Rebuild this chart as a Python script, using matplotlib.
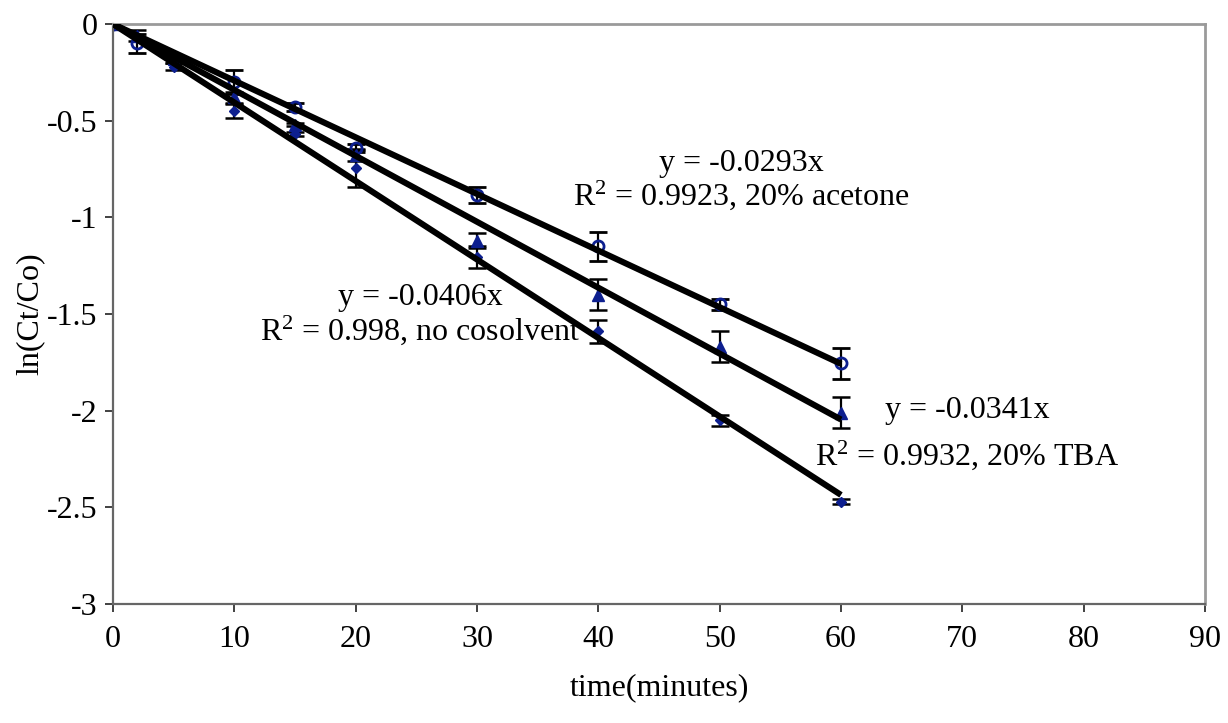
import numpy as np
import matplotlib.pyplot as plt

plt.rcParams['font.family'] = ['Liberation Serif', 'DejaVu Serif']
plt.rcParams['mathtext.fontset'] = 'custom'
plt.rcParams['mathtext.rm'] = 'Liberation Serif'
plt.rcParams['mathtext.it'] = 'Liberation Serif'

# 数据：三种体系 ln(Ct/Co) 随时间变化
time_ac = [0, 2, 10, 15, 20, 30, 40, 50, 60]
ln_ac = [0, -0.10, -0.30, -0.43, -0.64, -0.885, -1.15, -1.45, -1.755]
err_ac = [0, 0.05, 0.06, 0.02, 0.02, 0.04, 0.075, 0.03, 0.08]

time_tba = [0, 2, 5, 10, 15, 20, 30, 40, 50, 60]
ln_tba = [0, -0.06, -0.18, -0.38, -0.52, -0.68, -1.12, -1.40, -1.67, -2.01]
err_tba = [0, 0.03, 0.02, 0.03, 0.01, 0.03, 0.04, 0.08, 0.08, 0.08]

time_nc = [0, 5, 10, 15, 20, 30, 40, 50, 60]
ln_nc = [0, -0.22, -0.45, -0.57, -0.745, -1.205, -1.59, -2.05, -2.47]
err_nc = [0, 0.02, 0.035, 0.01, 0.10, 0.055, 0.06, 0.03, 0.015]

# 拟合斜率与 R²
slope_ac, r2_ac = -0.0293, 0.9923
slope_tba, r2_tba = -0.0341, 0.9932
slope_nc, r2_nc = -0.0406, 0.998

fig = plt.figure(figsize=(12.28, 7.23), dpi=100)
ax = fig.add_axes([0.092, 0.1646, 0.8893, 0.8022])

blue = '#0d1f8f'
eb_kw = dict(ecolor='black', elinewidth=1.6, capsize=6.5, capthick=1.8,
             linestyle='none', zorder=2)

ax.errorbar(time_ac, ln_ac, yerr=err_ac, marker='o', ms=8, mfc='none',
            mec=blue, mew=2, **eb_kw)
ax.errorbar(time_tba, ln_tba, yerr=err_tba, marker='^', ms=8, mfc=blue,
            mec=blue, **eb_kw)
ax.errorbar(time_nc, ln_nc, yerr=err_nc, marker='D', ms=5.5, mfc=blue,
            mec=blue, **eb_kw)

# 过原点的线性趋势线
t_fit = np.array([0, 60])
for k in (slope_ac, slope_tba, slope_nc):
    ax.plot(t_fit, k * t_fit, color='black', lw=4.4, solid_capstyle='butt',
            zorder=3)

fs = 23
ax.text(51.8, -0.76, f'y = {slope_ac}x', ha='center', va='baseline', fontsize=fs)
ax.text(51.8, -0.936, f'R$^2$ = {r2_ac}, 20% acetone', ha='center',
        va='baseline', fontsize=fs)
ax.text(25.3, -1.455, f'y = {slope_nc}x', ha='center', va='baseline', fontsize=fs)
ax.text(25.3, -1.632, f'R$^2$ = {r2_nc}, no cosolvent', ha='center',
        va='baseline', fontsize=fs)
ax.text(70.4, -2.038, f'y = {slope_tba}x', ha='center', va='baseline', fontsize=fs)
ax.text(70.4, -2.281, f'R$^2$ = {r2_tba}, 20% TBA', ha='center',
        va='baseline', fontsize=fs)

ax.set_xlim(0, 90)
ax.set_ylim(-3, 0)
ax.set_xticks(np.arange(0, 91, 10))
ax.set_yticks(np.arange(-3, 0.01, 0.5))
ax.set_yticklabels(['-3', '-2.5', '-2', '-1.5', '-1', '-0.5', '0'])
ax.tick_params(axis='both', direction='out', length=6, width=1.3,
               colors='#333333', labelcolor='black', labelsize=fs)
ax.tick_params(axis='x', pad=9)
ax.tick_params(axis='y', pad=5)

for s in ('top', 'right'):
    ax.spines[s].set_color('#9a9a9a')
    ax.spines[s].set_linewidth(2)
for s in ('left', 'bottom'):
    ax.spines[s].set_color('#666666')
    ax.spines[s].set_linewidth(1.6)

ax.set_xlabel('time(minutes)', fontsize=fs, labelpad=14)
ax.set_ylabel('ln(Ct/Co)', fontsize=fs, labelpad=2)

fig.savefig('out.png', dpi=100)
